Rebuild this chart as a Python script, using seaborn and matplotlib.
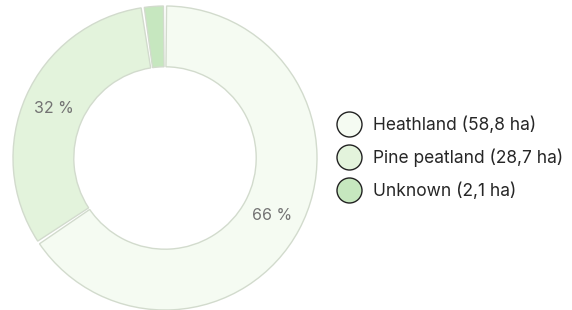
import matplotlib
matplotlib.use("Agg")
import matplotlib.pyplot as plt
from matplotlib.lines import Line2D
import seaborn as sns

# data
categories = ["Heathland", "Pine peatland", "Unknown"]
areas = [58.8, 28.7, 2.1]
colors = ["#f5fbf2", "#e3f3dc", "#c6e7bf"]
edge = "#d2dbcd"

sns.set_theme(style="white")
plt.rcParams["font.family"] = ["Inter", "DejaVu Sans"]

fig = plt.figure(figsize=(5.72, 3.10), dpi=100)
ax = fig.add_axes([13 / 572, 0.0, 304 / 572, 304 / 310])


def pct(p):
    return f"{p:.0f} %" if p > 5 else ""


wedges, texts, autotexts = ax.pie(
    areas, colors=colors, startangle=90, counterclock=False, radius=1.0,
    autopct=pct, pctdistance=0.8,
    wedgeprops=dict(width=0.4, edgecolor=edge, linewidth=1.0),
    textprops=dict(color="#737373", fontsize=11.5),
)
# small gaps between slices
gap = 0.6
for w in wedges:
    w.set_theta1(w.theta1 + gap)
    w.set_theta2(w.theta2 - gap)

ax.set_xlim(-1.0, 1.0)
ax.set_ylim(-1.0, 1.0)
ax.set_aspect("equal")
ax.axis("off")

labels = [f"{c} ({str(a).replace('.', ',')} ha)" for c, a in zip(categories, areas)]
handles = [Line2D([], [], linestyle="none", marker="o", markersize=18,
                  markerfacecolor=c, markeredgecolor="#222222", markeredgewidth=1.0)
           for c in colors]
fig.legend(handles, labels, loc="center left", bbox_to_anchor=(337 / 572, 0.49),
           frameon=False, fontsize=12.5, handlelength=1.4, handletextpad=0.65,
           labelspacing=0.85, borderpad=0, borderaxespad=0)

fig.savefig("out.png", dpi=100)
